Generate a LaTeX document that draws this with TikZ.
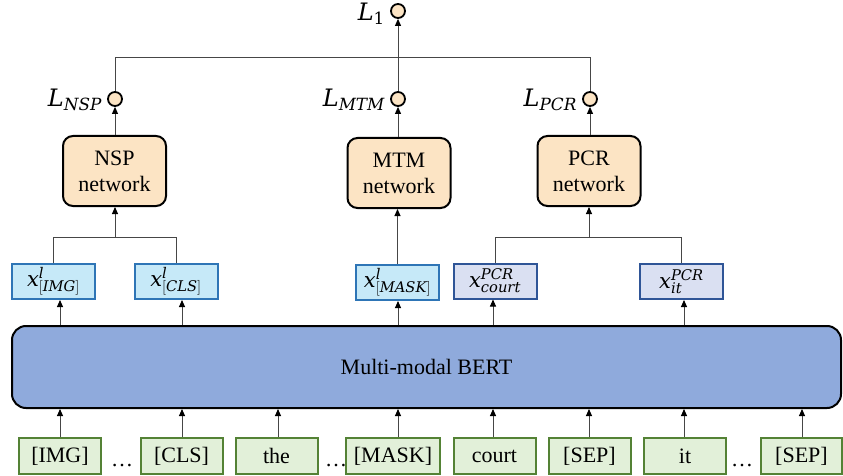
\RequirePackage{fix-cm}
\documentclass[tikz,border=0pt]{standalone}
\usepackage{fontspec}
\setmainfont{Liberation Serif}
\newfontfamily\djserif{DejaVu Serif}[NFSSFamily=djs]
\DeclareMathAlphabet{\mdj}{TU}{djs}{m}{it}
\DeclareMathAlphabet{\mdjr}{TU}{djs}{m}{n}
\usetikzlibrary{arrows.meta}
\definecolor{netfill}{RGB}{252,228,196}
\definecolor{featfill}{RGB}{198,233,248}
\definecolor{featblue}{RGB}{46,117,182}
\definecolor{pcrfill}{RGB}{218,224,242}
\definecolor{pcrblue}{RGB}{47,85,151}
\definecolor{bertfill}{RGB}{143,170,220}
\definecolor{tokfill}{RGB}{226,240,217}
\definecolor{tokgreen}{RGB}{84,130,53}
\definecolor{linegray}{RGB}{70,70,70}
\begin{document}
\begin{tikzpicture}[x=1pt,y=-1pt,
  conn/.style={draw=linegray, line width=0.9pt},
  arr/.style={conn, -{Triangle[length=7pt,width=6pt,color=black]}},
  loss/.style={circle, draw=black, line width=1.8pt, fill=netfill, minimum size=14pt, inner sep=0pt},
  losslab/.style={font=\fontsize{24}{28}\selectfont, inner sep=0pt, anchor=east},
  net/.style={draw=black, line width=2pt, fill=netfill, rounded corners=10pt, minimum width=103pt, minimum height=70pt, inner sep=0pt, align=center, font=\fontsize{22}{26}\selectfont},
  feat/.style={draw=featblue, line width=2pt, fill=featfill, minimum width=83pt, minimum height=35pt, inner sep=0pt, font=\fontsize{21}{24}\selectfont},
  pcrf/.style={feat, draw=pcrblue, fill=pcrfill},
  bertbox/.style={draw=black, line width=2pt, fill=bertfill, rounded corners=14pt, minimum width=829pt, minimum height=82pt, inner sep=0pt, font=\fontsize{22}{26}\selectfont},
  tok/.style={draw=tokgreen, line width=2pt, fill=tokfill, minimum width=82pt, minimum height=36pt, inner sep=0pt, font=\fontsize{22}{26}\selectfont},
  dotsl/.style={font=\fontsize{22}{26}\selectfont, inner sep=0pt, anchor=base}
]
\useasboundingbox (0,0) rectangle (843,476);

% column coordinates
\coordinate (c1) at (60,0);
\coordinate (c2) at (182,0);
\coordinate (c3) at (278,0);
\coordinate (c4) at (398,0);
\coordinate (c5) at (493,0);
\coordinate (c6) at (589,0);
\coordinate (c7) at (684,0);
\coordinate (c8) at (802,0);
\coordinate (top) at (398,57);
\coordinate (bnsp) at (115,237);
\coordinate (bpcr) at (589,237);

% losses
\node[loss] (l1) at (398,11) {};
\node[loss] (lnsp) at (115,99) {};
\node[loss] (lmtm) at (398,99) {};
\node[loss] (lpcr) at (590,99) {};
\node[losslab] (l1t) at ([xshift=-5pt,yshift=-3pt]l1.west) {$\mdj{L}_{\mdjr{1}}$};
\node[losslab] (lnspt) at ([xshift=-5pt,yshift=-1pt]lnsp.west) {$\mdj{L}_{\mdj{NSP}}$};
\node[losslab] (lmtmt) at ([xshift=-5pt,yshift=-1pt]lmtm.west) {$\mdj{L}_{\mdj{MTM}}$};
\node[losslab] (lpcrt) at ([xshift=-5pt,yshift=-1pt]lpcr.west) {$\mdj{L}_{\mdj{PCR}}$};

% networks
\node[net] (nsp) at (114.5,171) {NSP\\network};
\node[net] (mtm) at (399,173) {MTM\\network};
\node[net] (pcr) at (589,171) {PCR\\network};

% features
\node[feat] (fimg) at (53.5,281.5) {$\mdj{x}^{\mdj{l}}_{\mdjr{[}\mdj{IMG}\mdjr{]}}$};
\node[feat] (fcls) at (176,281.5) {$\mdj{x}^{\mdj{l}}_{\mdjr{[}\mdj{CLS}\mdjr{]}}$};
\node[feat] (fmask) at (397.5,282.5) {$\mdj{x}^{\mdj{l}}_{\mdjr{[}\mdj{MASK}\mdjr{]}}$};
\node[pcrf] (fcourt) at (495,281) {$\mdj{x}^{\mdj{PCR}}_{\mdj{court}}$};
\node[pcrf] (fit) at (681.5,281.5) {$\mdj{x}^{\mdj{PCR}}_{\mdj{it}}$};

% BERT
\node[bertbox] (bert) at (426.5,367) {Multi-modal BERT};

% tokens
\node[tok] (timg) at (60,456) {[IMG]};
\node[tok] (tcls) at (181.5,456) {[CLS]};
\node[tok] (tthe) at (276.5,456) {the};
\node[tok, minimum width=94pt] (tmask) at (393,456) {[MASK]};
\node[tok] (tcourt) at (494.5,456) {court};
\node[tok] (tsep) at (589.5,456) {[SEP]};
\node[tok] (tit) at (685,456) {it};
\node[tok, minimum width=81pt] (tsepb) at (801.5,456) {[SEP]};
\node[dotsl] (d1) at (122,466) {…};
\node[dotsl] (d2) at (336,466) {…};
\node[dotsl] (d3) at (742,466) {…};

% token -> BERT
\draw[arr] (timg.north -| c1) -- (bert.south -| c1);
\draw[arr] (tcls.north -| c2) -- (bert.south -| c2);
\draw[arr] (tthe.north -| c3) -- (bert.south -| c3);
\draw[arr] (tmask.north -| c4) -- (bert.south -| c4);
\draw[arr] (tcourt.north -| c5) -- (bert.south -| c5);
\draw[arr] (tsep.north -| c6) -- (bert.south -| c6);
\draw[arr] (tit.north -| c7) -- (bert.south -| c7);
\draw[arr] (tsepb.north -| c8) -- (bert.south -| c8);

% BERT -> features
\draw[arr] (bert.north -| c1) -- (fimg.south -| c1);
\draw[arr] (bert.north -| c2) -- (fcls.south -| c2);
\draw[arr] (bert.north -| c4) -- (fmask.south -| c4);
\draw[arr] (bert.north -| c5) -- (fcourt.south -| c5);
\draw[arr] (bert.north -| c7) -- (fit.south -| c7);

% features -> networks
\draw[conn] (fimg.north) -- (fimg.north |- bnsp) -- (fcls.north |- bnsp) -- (fcls.north);
\draw[arr] (bnsp) -- (nsp.south -| bnsp);
\draw[arr] (fmask.north) -- (fmask.north |- mtm.south);
\draw[conn] (fcourt.north) -- (fcourt.north |- bpcr) -- (fit.north |- bpcr) -- (fit.north);
\draw[arr] (bpcr) -- (pcr.south -| bpcr);

% networks -> losses
\draw[arr] (nsp.north -| lnsp) -- (lnsp.south);
\draw[arr] (mtm.north -| lmtm) -- (lmtm.south);
\draw[arr] (pcr.north -| lpcr) -- (lpcr.south);

% losses -> L1
\draw[conn] (lnsp.north) -- (lnsp.north |- top) -- (lpcr.north |- top) -- (lpcr.north);
\draw[arr] (lmtm.north) -- (l1.south);
\end{tikzpicture}
\end{document}
